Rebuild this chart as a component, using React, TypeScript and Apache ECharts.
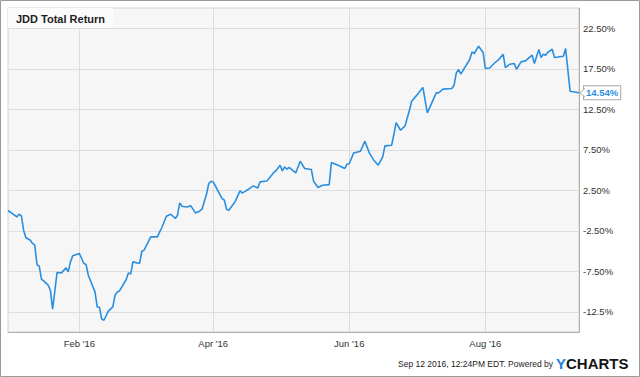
import React, { useEffect, useRef } from 'react';
import * as echarts from 'echarts';

const FONT = "'Liberation Sans', Arial, Helvetica, sans-serif";
const LINE_COLOR = '#2b8fe0';

const titleText = 'JDD Total Return';
const footerText = 'Sep 12 2016, 12:24PM EDT. Powered by';
const brandLead = 'Y';
const brandRest = 'CHARTS';

const axisStart = '2015-12-31';
const axisEnd = '2016-09-12';

const xTickDates = ['2016-02-01', '2016-04-01', '2016-06-01', '2016-08-01'];
const xTickLabels = ["Feb '16", "Apr '16", "Jun '16", "Aug '16"];

const yTickValues = [-12.5, -7.5, -2.5, 2.5, 7.5, 12.5, 17.5, 22.5];
const yTickLabels = ['-12.5%', '-7.50%', '-2.50%', '2.50%', '7.50%', '12.50%', '17.50%', '22.50%'];

const pointDates = [
  '2015-12-31', '2016-01-04', '2016-01-05', '2016-01-06', '2016-01-07', '2016-01-08', '2016-01-10',
  '2016-01-11', '2016-01-12', '2016-01-13', '2016-01-14', '2016-01-15', '2016-01-16', '2016-01-18',
  '2016-01-19', '2016-01-20', '2016-01-22', '2016-01-24', '2016-01-26', '2016-01-27', '2016-01-28',
  '2016-01-29', '2016-02-01', '2016-02-02', '2016-02-03', '2016-02-04', '2016-02-05', '2016-02-08',
  '2016-02-09', '2016-02-10', '2016-02-11', '2016-02-12', '2016-02-14', '2016-02-16', '2016-02-17',
  '2016-02-18', '2016-02-19', '2016-02-22', '2016-02-23', '2016-02-24', '2016-02-25', '2016-02-28',
  '2016-02-29', '2016-03-01', '2016-03-04', '2016-03-07', '2016-03-08', '2016-03-09', '2016-03-11',
  '2016-03-13', '2016-03-15', '2016-03-16', '2016-03-17', '2016-03-18', '2016-03-20', '2016-03-22',
  '2016-03-24', '2016-03-26', '2016-03-27', '2016-03-29', '2016-03-30', '2016-03-31', '2016-04-01',
  '2016-04-03', '2016-04-05', '2016-04-06', '2016-04-07', '2016-04-08', '2016-04-10', '2016-04-11',
  '2016-04-13', '2016-04-14', '2016-04-15', '2016-04-19', '2016-04-20', '2016-04-21', '2016-04-22',
  '2016-04-25', '2016-04-26', '2016-04-28', '2016-04-29', '2016-05-01', '2016-05-02', '2016-05-03',
  '2016-05-04', '2016-05-05', '2016-05-08', '2016-05-10', '2016-05-12', '2016-05-15', '2016-05-16',
  '2016-05-18', '2016-05-20', '2016-05-23', '2016-05-24', '2016-05-27', '2016-05-30', '2016-05-31',
  '2016-06-01', '2016-06-03', '2016-06-06', '2016-06-08', '2016-06-10', '2016-06-12', '2016-06-14',
  '2016-06-16', '2016-06-17', '2016-06-20', '2016-06-21', '2016-06-22', '2016-06-24', '2016-06-26',
  '2016-06-28', '2016-06-29', '2016-07-01', '2016-07-04', '2016-07-06', '2016-07-10', '2016-07-11',
  '2016-07-13', '2016-07-17', '2016-07-18', '2016-07-19', '2016-07-20', '2016-07-21', '2016-07-25',
  '2016-07-26', '2016-07-27', '2016-07-29', '2016-07-31', '2016-08-01', '2016-08-03', '2016-08-05',
  '2016-08-07', '2016-08-09', '2016-08-10', '2016-08-12', '2016-08-14', '2016-08-15', '2016-08-17',
  '2016-08-19', '2016-08-22', '2016-08-23', '2016-08-25', '2016-08-26', '2016-08-27', '2016-08-28',
  '2016-08-29', '2016-08-31', '2016-09-01', '2016-09-05', '2016-09-06', '2016-09-08', '2016-09-12',
];

const pointValues = [
  0.0, -0.79, -0.46, -0.66, -2.43, -3.34, -3.67,
  -4.07, -4.28, -6.67, -6.88, -8.48, -8.69, -9.22,
  -9.84, -12.19, -7.65, -7.7, -7.08, -7.58, -6.34,
  -5.6, -5.31, -5.93, -6.54, -6.67, -7.99, -10.05,
  -11.9, -11.94, -13.4, -13.55, -12.43, -11.9, -10.46,
  -10.05, -9.93, -8.52, -7.7, -7.86, -6.34, -6.54,
  -5.02, -4.9, -3.26, -3.26, -2.64, -2.1, -0.7,
  -0.46, -0.99, -0.58, 0.94, 0.53, 0.44, 0.57,
  -0.3, -0.05, 0.18, 2.0, 3.33, 3.62, 3.53,
  2.5, 1.48, 1.27, 0.16, 0.04, 0.78, 1.19,
  2.42, 2.17, 2.3, 3.04, 2.91, 2.79, 3.53,
  3.65, 3.95, 4.64, 4.89, 5.59, 4.89, 5.38,
  5.1, 5.31, 4.64, 6.09, 5.19, 5.06, 3.62,
  2.84, 3.12, 3.2, 5.93, 5.59, 5.19, 5.72,
  5.8, 7.11, 7.32, 8.56, 7.11, 6.21, 5.59,
  6.62, 7.98, 8.06, 9.38, 10.86, 9.91, 10.44,
  12.4, 13.49, 14.15, 15.19, 12.05, 14.52, 14.52,
  14.98, 15.06, 15.47, 16.99, 17.41, 16.83, 18.64,
  19.58, 19.38, 20.28, 19.51, 17.53, 17.6, 18.18,
  18.64, 19.3, 17.65, 18.06, 18.15, 17.44, 18.35,
  18.47, 19.17, 18.15, 19.88, 18.89, 19.3, 19.17,
  19.51, 19.91, 18.89, 19.05, 20.0, 14.73, 14.54,
];

function calendarDays(from: string, to: string): string[] {
  const out: string[] = [];
  let t = Date.parse(from + 'T00:00:00Z');
  const end = Date.parse(to + 'T00:00:00Z');
  while (t <= end) {
    out.push(new Date(t).toISOString().slice(0, 10));
    t += 86400000;
  }
  return out;
}

export default function App() {
  const ref = useRef<HTMLDivElement | null>(null);

  useEffect(() => {
    document.body.style.margin = '0';
    if (!ref.current) return;
    const chart = echarts.init(ref.current, undefined, { renderer: 'svg' });

    const days = calendarDays(axisStart, axisEnd);
    const valueByDate = new Map<string, number>();
    pointDates.forEach((d, i) => valueByDate.set(d, pointValues[i]));
    const seriesData = days.map((d) => (valueByDate.has(d) ? (valueByDate.get(d) as number) : null));

    const isTick = (_i: number, v: string) => xTickDates.indexOf(v) >= 0;

    chart.setOption({
      animation: false,
      backgroundColor: '#ffffff',
      textStyle: { fontFamily: FONT },
      title: {
        text: titleText,
        left: 8,
        top: 8,
        padding: [5, 8, 4, 8],
        backgroundColor: '#fbfbfb',
        textStyle: { fontSize: 11, fontWeight: 'bold', color: '#1e1e1e', fontFamily: FONT },
      },
      grid: {
        left: 8,
        right: 61,
        top: 8,
        bottom: 45,
        show: true,
        backgroundColor: '#f6f6f6',
        borderColor: '#d2d2d2',
        borderWidth: 1,
      },
      xAxis: {
        type: 'category',
        data: days,
        boundaryGap: false,
        axisLine: { show: true, onZero: false, lineStyle: { color: '#b0b0b0' } },
        axisTick: { show: false, interval: isTick },
        axisLabel: {
          interval: isTick,
          formatter: (v: string) => {
            const i = xTickDates.indexOf(v);
            return i >= 0 ? xTickLabels[i] : '';
          },
          fontSize: 9.5,
          color: '#333',
          margin: 6,
          fontFamily: FONT,
        },
        splitLine: { show: true, interval: isTick, lineStyle: { color: '#dcdcdc', width: 1 } },
      },
      yAxis: {
        type: 'value',
        position: 'right',
        min: -15,
        max: 25,
        interval: 2.5,
        axisLine: { show: true, onZero: false, lineStyle: { color: '#b0b0b0' } },
        axisTick: { show: false },
        axisLabel: {
          formatter: (v: number) => {
            const i = yTickValues.findIndex((t) => Math.abs(t - v) < 1e-6);
            return i >= 0 ? yTickLabels[i] : '';
          },
          fontSize: 9.5,
          color: '#333',
          margin: 4,
          fontFamily: FONT,
        },
        splitLine: { show: true, lineStyle: { color: ['rgba(0,0,0,0)', '#dedede'], width: 1 } },
      },
      series: [
        {
          type: 'line',
          data: seriesData,
          connectNulls: true,
          symbol: 'none',
          showSymbol: false,
          lineStyle: { color: LINE_COLOR, width: 1.6 },
          endLabel: {
            show: true,
            formatter: (p: any) => `${Number(p.value).toFixed(2)}%`,
            color: LINE_COLOR,
            fontWeight: 'bold',
            fontSize: 9.5,
            fontFamily: FONT,
            backgroundColor: '#ffffff',
            borderColor: '#a8a8a8',
            borderWidth: 1,
            padding: [2, 2, 1, 2],
            distance: 5,
          },
        },
      ],
    });

    const lastDate = pointDates[pointDates.length - 1];
    const lastValue = pointValues[pointValues.length - 1];
    const px = chart.convertToPixel({ gridIndex: 0 }, [lastDate, lastValue]) as number[];
    const ax = px[0] + 1;
    const ay = px[1];

    chart.setOption({
      graphic: [
        {
          type: 'rect',
          silent: true,
          shape: { x: 0.5, y: 0.5, width: 639, height: 376 },
          style: { fill: 'none', stroke: '#9a9a9a', lineWidth: 1 },
        },
        {
          type: 'polygon',
          silent: true,
          z: 100,
          shape: { points: [[ax, ay], [ax + 5, ay - 4.5], [ax + 5, ay + 4.5]] },
          style: { fill: '#ffffff' },
        },
        {
          type: 'polyline',
          silent: true,
          z: 101,
          shape: { points: [[ax + 5, ay - 4.5], [ax, ay], [ax + 5, ay + 4.5]] },
          style: { stroke: '#a8a8a8', lineWidth: 1, fill: 'none' },
        },
        {
          type: 'text',
          silent: true,
          style: {
            text: footerText,
            x: 553,
            y: 364,
            align: 'right',
            verticalAlign: 'middle',
            fontSize: 8.5,
            fontFamily: FONT,
            fill: '#222222',
          },
        },
        {
          type: 'text',
          silent: true,
          style: {
            text: `{y|${brandLead}}{c|${brandRest}}`,
            x: 556,
            y: 363,
            verticalAlign: 'middle',
            rich: {
              y: { fill: '#1f7fd8', color: '#1f7fd8', fontSize: 15, fontWeight: 'bold', fontFamily: FONT },
              c: { fill: '#151515', color: '#151515', fontSize: 15, fontWeight: 'bold', fontFamily: FONT },
            },
          },
        },
      ],
    });

    return () => chart.dispose();
  }, []);

  return (
    <div
      ref={ref}
      style={{ position: 'absolute', left: 0, top: 0, width: 640, height: 377 }}
    />
  );
}
